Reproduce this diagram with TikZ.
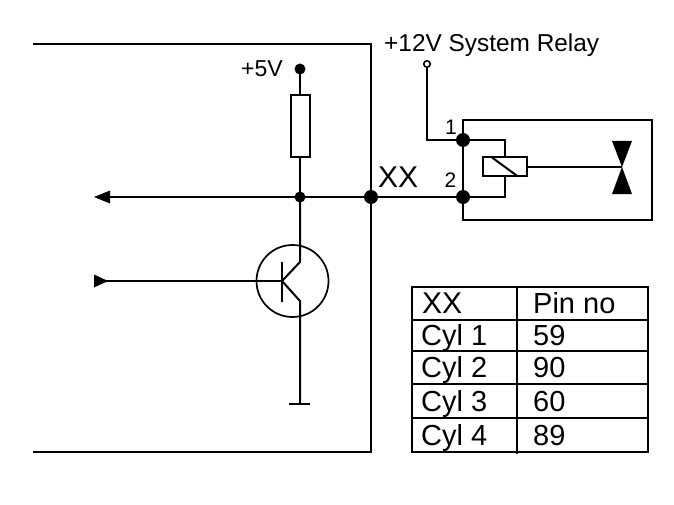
\documentclass[tikz,border=0pt]{standalone}
\usepackage{fontspec}
\setmainfont{Liberation Sans}
\begin{document}
\begin{tikzpicture}[
        x=1pt, y=-1pt,
        % Define styles for consistency
        wire/.style={black, line width=2pt},
        dot/.style={circle, fill=black, inner sep=0pt, minimum size=11pt},
        bigdot/.style={circle, fill=black, inner sep=0pt, minimum size=14pt},
        opendot/.style={circle, draw=black, fill=white, line width=1.6pt, inner sep=0pt, minimum size=6.5pt},
        part/.style={rectangle, draw=black, line width=2pt, fill=white, inner sep=0pt},
        tip/.style={fill=black, draw=none},
        label/.style={anchor=base west, inner sep=0pt, font=\fontsize{23}{23}\selectfont},
        pinlabel/.style={anchor=base west, inner sep=0pt, font=\fontsize{21}{21}\selectfont},
        tabtext/.style={anchor=base west, inner sep=0pt, font=\fontsize{29}{29}\selectfont}
    ]
        \useasboundingbox (0,0) rectangle (674,505);

        % --- Coordinates ---
        % Control unit outline
        \coordinate (box_tl) at (33, 44);
        \coordinate (box_tr) at (371, 44);
        \coordinate (box_br) at (371, 452);
        \coordinate (box_bl) at (33, 452);

        % Signal line
        \coordinate (out_end) at (108, 197);
        \coordinate (hub) at (300, 197);
        \coordinate (xx) at (371, 197);

        % Pull-up
        \coordinate (supply) at (300, 69);

        % Transistor
        \coordinate (in_end) at (104, 281);
        \coordinate (base) at (282, 281);
        \coordinate (base_top) at (282, 262);
        \coordinate (base_bot) at (282, 302);
        \coordinate (coll) at (300, 262);
        \coordinate (emit) at (300, 301);
        \coordinate (gnd) at (300, 404);
        \coordinate (gnd_l) at (289, 404);
        \coordinate (gnd_r) at (310, 404);

        % Relay
        \coordinate (pin1) at (463, 140);
        \coordinate (pin2) at (463, 197);
        \coordinate (rel_tr) at (652, 120);
        \coordinate (rel_tl) at (463, 120);
        \coordinate (rel_br) at (652, 220);
        \coordinate (rel_bl) at (463, 220);
        \coordinate (contact) at (622, 167);

        % --- Draw Edges ---
        % Control unit outline
        \draw[wire] (box_tl) -- (box_tr) -- (box_br) -- (box_bl);

        % Signal line
        \draw[wire] (out_end) -- (pin2);
        \draw[tip] (94, 197) -- (110, 190.5) -- (110, 203.5) -- cycle;

        % Pull-up
        \node[part, minimum width=19pt, minimum height=62pt] (res) at (300.5, 126) {};
        \draw[wire] (supply) -- (res.north -| supply);
        \draw[wire] (res.south -| supply) -- (hub);

        % Transistor
        \node[circle, draw=black, line width=1.7pt, inner sep=0pt, minimum size=72pt] (tr) at (292.5, 281) {};
        \draw[wire] (hub) -- (coll) -- (base);
        \draw[wire] (base) -- (emit) -- (gnd);
        \draw[wire] (base_top) -- (base_bot);
        \draw[wire] (in_end) -- (base);
        \draw[tip] (94, 274.5) -- (108, 281) -- (94, 287.5) -- cycle;
        \draw[wire] (gnd_l) -- (gnd_r);

        % Relay
        \draw[wire] (rel_tl) -- (rel_tr) -- (rel_br) -- (rel_bl) -- cycle;
        \node[opendot] (term) at (427, 64) {};
        \draw[wire] (term) -- (pin1 -| term) -- (pin1);
        \draw[wire] (xx) -- (pin2);
        \node[part, minimum width=44pt, minimum height=19pt] (coil) at (505, 167) {};
        \draw[wire] (pin1) -- (505, 140) -- (coil.north);
        \draw[wire] (pin2) -- (505, 197) -- (coil.south);
        \draw[wire] (492, 157.5) -- (518, 176.5);
        \draw[wire] (coil.east) -- (contact);
        \draw[tip] (612, 141) -- (632, 141) -- (contact) -- cycle;
        \draw[tip] (612, 194) -- (632, 194) -- (contact) -- cycle;

        % --- Draw Nodes ---
        \node[dot] (d_supply) at (supply) {};
        \node[dot] (d_hub) at (hub) {};
        \node[bigdot] (d_xx) at (xx) {};
        \node[bigdot] (d_pin1) at (pin1) {};
        \node[bigdot] (d_pin2) at (pin2) {};

        % --- Labels ---
        \node[label] (l_5v) at (241, 77) {+5V};
        \node[label, font=\fontsize{24.4}{24.4}\selectfont] (l_12v) at (384, 52) {+12V System Relay};
        \node[tabtext, font=\fontsize{30}{30}\selectfont] (l_xx) at (378, 188) {XX};
        \node[pinlabel] (l_pin1) at (445, 135) {1};
        \node[pinlabel] (l_pin2) at (444.5, 188) {2};

        % --- Pin table ---
        \draw[wire] (412, 287) rectangle (648, 452);
        \draw[wire] (412, 320) -- (648, 320);
        \draw[wire] (412, 351) -- (648, 351);
        \draw[wire] (412, 384) -- (648, 384);
        \draw[wire] (412, 418) -- (648, 418);
        \draw[wire] (517, 287) -- (517, 454);

        \node[tabtext, font=\fontsize{30}{30}\selectfont] (t_head) at (422, 313) {XX};
        \node[tabtext] (t_pin) at (533, 313) {Pin no};
        \node[tabtext] (t_cyl1) at (421, 345) {Cyl 1};
        \node[tabtext] (t_no1) at (533, 345) {59};
        \node[tabtext] (t_cyl2) at (421, 377) {Cyl 2};
        \node[tabtext] (t_no2) at (533, 377) {90};
        \node[tabtext] (t_cyl3) at (421, 411) {Cyl 3};
        \node[tabtext] (t_no3) at (533, 411) {60};
        \node[tabtext] (t_cyl4) at (421, 445) {Cyl 4};
        \node[tabtext] (t_no4) at (533, 445) {89};

    \end{tikzpicture}
\end{document}
